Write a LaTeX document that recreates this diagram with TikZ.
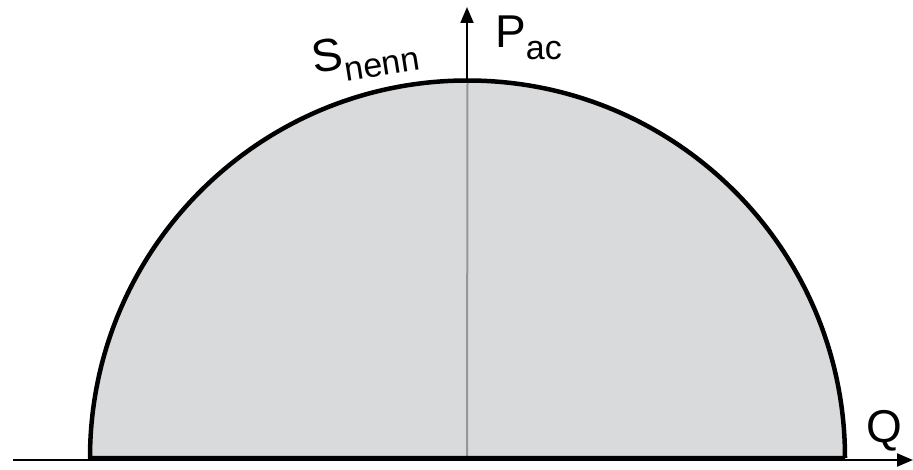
\documentclass[tikz,border=0pt]{standalone}
\usepackage{fontspec}
\setmainfont{Liberation Sans}
\usetikzlibrary{arrows.meta}
\definecolor{fillgray}{RGB}{217,218,220}
\definecolor{axisgray}{RGB}{150,150,150}
\begin{document}
\begin{tikzpicture}[x=1pt,y=1pt,
  lbl/.style={inner sep=0pt,anchor=base west,font=\fontsize{46}{50}\selectfont},
  axisarrow/.style={line width=2pt,-{Triangle[length=16pt,width=13pt]}}]
\useasboundingbox (0,0) rectangle (913,469);
\coordinate (O) at (467.5,11);
\coordinate (L) at (90,11);
\coordinate (R) at (845,11);
\coordinate (T) at (467.5,388.5);
\coordinate (xs) at (13,9);
\coordinate (xe) at (913,9);
\coordinate (ye) at (467,462);
% fill
\fill[fillgray] (L) arc[start angle=180,end angle=0,radius=377.5] -- cycle;
% gray inner part of vertical axis
\draw[axisgray,line width=2pt] (467,11) -- (T);
% black part above arc
\draw[axisarrow] (467,388) -- (ye);
% horizontal axis
\draw[axisarrow] (xs) -- (xe);
% arc outline with base
\draw[line width=4.5pt,line join=round] (R) -- (L) arc[start angle=180,end angle=0,radius=377.5];
% labels
\node[lbl] (P) at (495,421) {P\raisebox{-12pt}{\fontsize{34}{34}\selectfont ac}};
\node[lbl,rotate=9] (S) at (314,395) {S\raisebox{-12pt}{\fontsize{34}{34}\selectfont nenn}};
\node[lbl] (Q) at (866,27) {Q};
\end{tikzpicture}
\end{document}
